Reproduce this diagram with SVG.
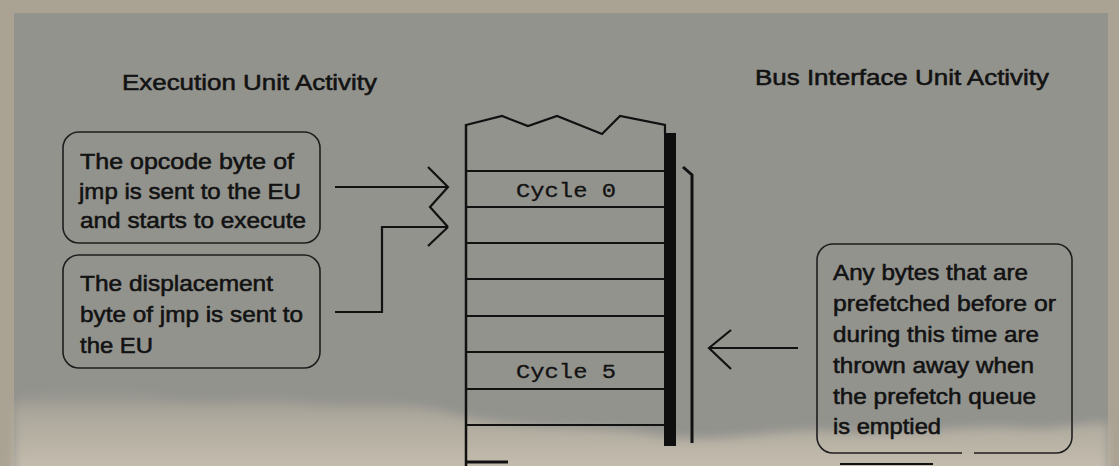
<svg xmlns="http://www.w3.org/2000/svg" width="1119" height="466" viewBox="0 0 1119 466">
  <defs>
    <style>
      .lbl { font-family: "Liberation Sans", Arial, Helvetica, sans-serif; font-size: 22px; fill: #121212; stroke: #121212; stroke-width: 0.55; }
      .mono { font-family: "Liberation Mono", "Courier New", monospace; font-size: 20px; fill: #121212; stroke: #121212; stroke-width: 0.3; }
      .box { fill: none; stroke: #1e1e1e; stroke-width: 1.6; }
      .ln { fill: none; stroke: #111; stroke-width: 2.2; stroke-linecap: butt; stroke-linejoin: miter; }
      .row { stroke: #111; stroke-width: 2.2; }
    </style>
    <linearGradient id="paper" x1="0" y1="0" x2="0" y2="1">
      <stop offset="0" stop-color="#aaa598" stop-opacity="0"/>
      <stop offset="0.25" stop-color="#b2ac9f" stop-opacity="0.8"/>
      <stop offset="1" stop-color="#cbc3b3"/>
    </linearGradient>
    <filter id="soft" x="-5%" y="-20%" width="110%" height="140%">
      <feGaussianBlur stdDeviation="5"/>
    </filter>
  </defs>

  <!-- background -->
  <rect x="0" y="0" width="1119" height="466" fill="#aaa293"/>
  <rect x="14" y="13" width="1094" height="453" fill="#93938e"/>
  <path d="M14 400 C60 390 110 386 160 398 C210 408 250 394 300 402 C350 410 400 398 450 414 C520 432 600 424 660 436 C720 446 780 426 840 432 C900 438 960 424 1020 428 C1060 432 1090 420 1108 424 L1108 480 L14 480 Z" fill="url(#paper)" filter="url(#soft)"/>

  <g id="eu-title">
    <text class="lbl" x="122" y="90" textLength="255" lengthAdjust="spacingAndGlyphs">Execution Unit Activity</text>
  </g>
  <g id="biu-title">
    <text class="lbl" x="755" y="85" textLength="294" lengthAdjust="spacingAndGlyphs">Bus Interface Unit Activity</text>
  </g>

  <g id="opcode-note">
    <rect class="box" x="63" y="132" width="257" height="111" rx="16"/>
    <text class="lbl" x="80" y="169" textLength="214" lengthAdjust="spacingAndGlyphs">The opcode byte of</text>
    <text class="lbl" x="79" y="199" textLength="222" lengthAdjust="spacingAndGlyphs">jmp is sent to the EU</text>
    <text class="lbl" x="80" y="228" textLength="226" lengthAdjust="spacingAndGlyphs">and starts to execute</text>
  </g>

  <g id="displacement-note">
    <rect class="box" x="63" y="255" width="257" height="113" rx="16"/>
    <text class="lbl" x="80" y="291" textLength="193" lengthAdjust="spacingAndGlyphs">The displacement</text>
    <text class="lbl" x="80" y="322" textLength="223" lengthAdjust="spacingAndGlyphs">byte of jmp is sent to</text>
    <text class="lbl" x="80" y="353" textLength="73" lengthAdjust="spacingAndGlyphs">the EU</text>
  </g>

  <g id="discard-note">
    <path class="box" d="M962 453 H833 A16 16 0 0 1 817 437 V260 A16 16 0 0 1 833 244 H1056 A16 16 0 0 1 1072 260 V437 A16 16 0 0 1 1056 453 H974"/>
    <line class="row" x1="840" y1="464" x2="933" y2="464"/>
    <text class="lbl" x="833" y="280" textLength="195" lengthAdjust="spacingAndGlyphs">Any bytes that are</text>
    <text class="lbl" x="833" y="311" textLength="223" lengthAdjust="spacingAndGlyphs">prefetched before or</text>
    <text class="lbl" x="833" y="342" textLength="206" lengthAdjust="spacingAndGlyphs">during this time are</text>
    <text class="lbl" x="833" y="373" textLength="201" lengthAdjust="spacingAndGlyphs">thrown away when</text>
    <text class="lbl" x="833" y="404" textLength="203" lengthAdjust="spacingAndGlyphs">the prefetch queue</text>
    <text class="lbl" x="833" y="434" textLength="108" lengthAdjust="spacingAndGlyphs">is emptied</text>
  </g>

  <g id="queue-stack">
    <polyline class="ln" points="466,125 502,116 528,126 557,116 602,134 620,116 665,125 665,134"/>
    <line class="ln" x1="466" y1="124" x2="466" y2="466" style="stroke-width:2.5"/>
    <line class="row" x1="466" y1="171" x2="665" y2="171"/>
    <line class="row" x1="466" y1="207" x2="665" y2="207"/>
    <line class="row" x1="466" y1="243" x2="665" y2="243"/>
    <line class="row" x1="466" y1="279" x2="665" y2="279"/>
    <line class="row" x1="466" y1="316" x2="665" y2="316"/>
    <line class="row" x1="466" y1="352" x2="665" y2="352"/>
    <line class="row" x1="466" y1="389" x2="665" y2="389"/>
    <line class="row" x1="466" y1="425" x2="665" y2="425"/>
    <line class="row" x1="466" y1="462" x2="508" y2="462" style="stroke-width:2.8"/>
    <rect x="664" y="133" width="12" height="313" fill="#0e0e0e"/>
    <text class="mono" x="516" y="197" textLength="100" lengthAdjust="spacingAndGlyphs">Cycle 0</text>
    <text class="mono" x="516" y="378" textLength="100" lengthAdjust="spacingAndGlyphs">Cycle 5</text>
  </g>

  <g id="biu-bracket">
    <path class="ln" d="M683 167 L692 175 V443" style="stroke-width:3"/>
  </g>

  <g id="connectors">
    <path class="ln" d="M335 187 H448"/>
    <path class="ln" d="M428 167 L448 187 L430 207 L448 227"/>
    <path class="ln" d="M335 312 H382 V227 H448"/>
    <path class="ln" d="M448 227 L428 246"/>
    <path class="ln" d="M798 348 H709"/>
    <path class="ln" d="M731 330 L709 348 L731 369"/>
  </g>
</svg>
